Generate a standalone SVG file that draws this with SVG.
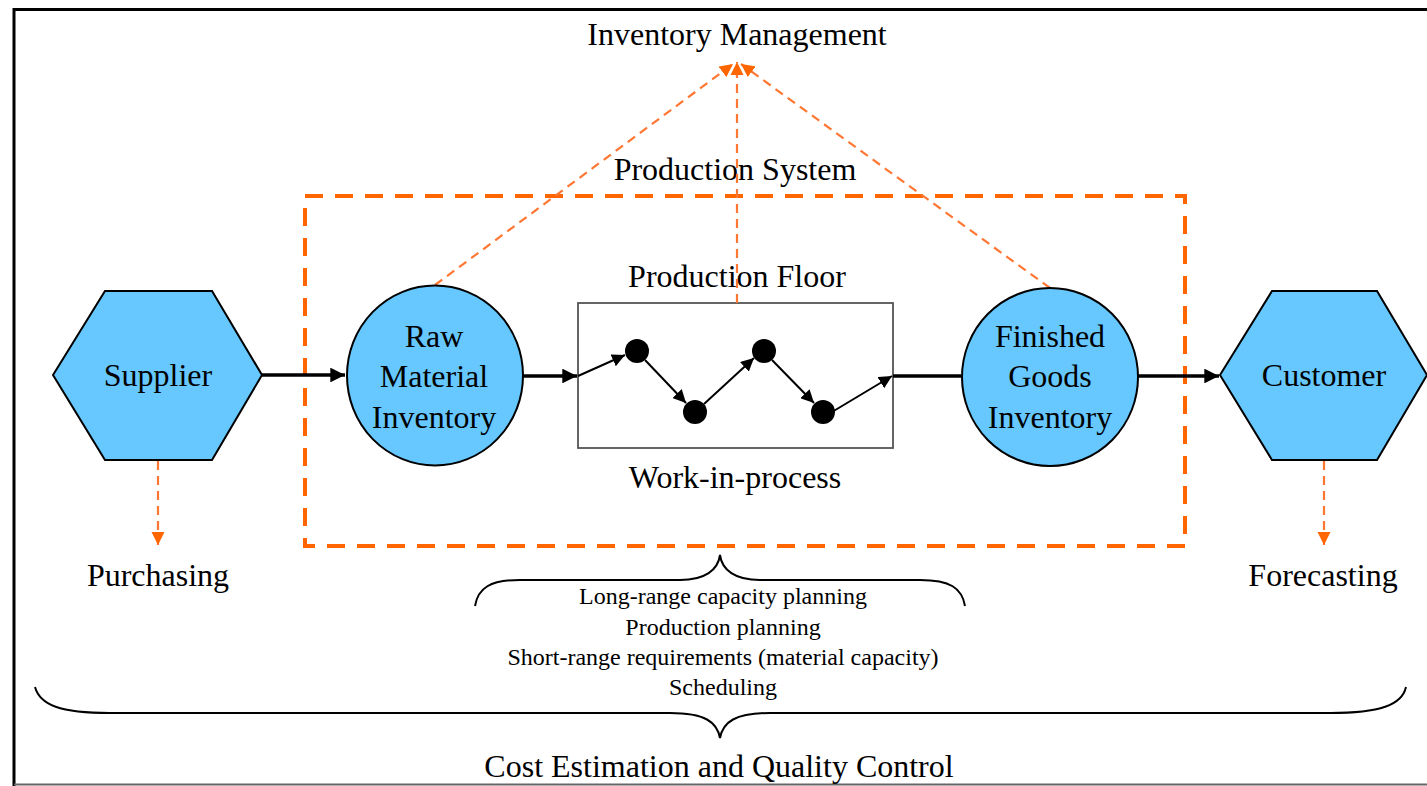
<svg xmlns="http://www.w3.org/2000/svg" width="1427" height="786" viewBox="0 0 1427 786">
<defs>
<style>
.t{font-family:"Liberation Serif","Times New Roman",serif;fill:#000;text-anchor:middle}
.big{font-size:32px}
.small{font-size:24px}
.shape{fill:#66C8FF;stroke:#000;stroke-width:2}
.flow{stroke:#000;stroke-width:3.5;fill:none}
.wip{stroke:#000;stroke-width:2;fill:none}
.dash{stroke:#FF7733;stroke-width:2.2;stroke-dasharray:9 6;fill:none}
.brace{stroke:#000;stroke-width:2;fill:none}
</style>
<marker id="ah" viewBox="0 0 10 10" refX="10" refY="5" markerWidth="4.2" markerHeight="4.2" markerUnits="strokeWidth" orient="auto">
<path d="M0,0 L10,5 L0,10 z" fill="#000"/>
</marker>
<marker id="ah2" viewBox="0 0 10 10" refX="10" refY="5" markerWidth="6.5" markerHeight="6.5" markerUnits="strokeWidth" orient="auto">
<path d="M0,0 L10,5 L0,10 z" fill="#000"/>
</marker>
<marker id="oa" viewBox="0 0 10 10" refX="10" refY="5" markerWidth="6" markerHeight="6" markerUnits="strokeWidth" orient="auto">
<path d="M0,0 L10,5 L0,10 z" fill="#FF6600"/>
</marker>
</defs>
<rect x="0" y="0" width="1427" height="786" fill="#fff"/>
<g id="frame">
<path d="M14,786 L14,9.5 L1427,9.5" fill="none" stroke="#000" stroke-width="3"/>
<line x1="14" y1="784.5" x2="1427" y2="784.5" stroke="#666" stroke-width="2"/>
</g>
<g id="production-system">
<rect x="305" y="196" width="880" height="350" fill="none" stroke="#FF6600" stroke-width="4" stroke-dasharray="18 12"/>
<text class="t big" x="735" y="180">Production System</text>
</g>
<g id="inventory-management">
<text class="t big" x="737" y="45">Inventory Management</text>
</g>
<g id="production-floor">
<rect x="578" y="303" width="315" height="145" fill="none" stroke="#555" stroke-width="1.8"/>
<text class="t big" x="737" y="287">Production Floor</text>
<circle cx="637" cy="351" r="12" fill="#000"/>
<circle cx="695" cy="412" r="12" fill="#000"/>
<circle cx="764" cy="351" r="12" fill="#000"/>
<circle cx="823" cy="412" r="12" fill="#000"/>
<text class="t big" x="735" y="488">Work-in-process</text>
</g>
<g id="connectors">
<line class="flow" x1="262" y1="375" x2="345" y2="375" marker-end="url(#ah)"/>
<line class="flow" x1="522" y1="376" x2="577" y2="376" marker-end="url(#ah)"/>
<line class="flow" x1="893" y1="376" x2="961" y2="376"/>
<line class="flow" x1="1138" y1="376" x2="1219" y2="376" marker-end="url(#ah)"/>
<line class="wip" x1="578" y1="376" x2="625" y2="355" marker-end="url(#ah2)"/>
<line class="wip" x1="645" y1="360" x2="686" y2="403" marker-end="url(#ah2)"/>
<line class="wip" x1="704" y1="404" x2="754" y2="358" marker-end="url(#ah2)"/>
<line class="wip" x1="772" y1="360" x2="814" y2="403" marker-end="url(#ah2)"/>
<line class="wip" x1="832" y1="412" x2="892" y2="376" marker-end="url(#ah2)"/>
<line class="dash" x1="435" y1="285" x2="733" y2="64" marker-end="url(#oa)"/>
<line class="dash" x1="737" y1="303" x2="737" y2="62" marker-end="url(#oa)"/>
<line class="dash" x1="1050" y1="288" x2="741" y2="64" marker-end="url(#oa)"/>
<line class="dash" x1="158" y1="461" x2="158" y2="545" marker-end="url(#oa)"/>
<line class="dash" x1="1324" y1="461" x2="1324" y2="545" marker-end="url(#oa)"/>
</g>
<g id="supplier">
<polygon class="shape" points="53,375 105,291 212,291 262,375 212,460 105,460"/>
<text class="t big" x="158" y="386">Supplier</text>
</g>
<g id="customer">
<polygon class="shape" points="1220,375 1272,291 1377,291 1427,375 1377,460 1272,460"/>
<text class="t big" x="1324" y="386">Customer</text>
</g>
<g id="raw-material-inventory">
<ellipse class="shape" cx="435" cy="375.5" rx="88" ry="90"/>
<text class="t big" x="434" y="347">Raw</text>
<text class="t big" x="434" y="387">Material</text>
<text class="t big" x="434" y="428">Inventory</text>
</g>
<g id="finished-goods-inventory">
<ellipse class="shape" cx="1050" cy="377" rx="88" ry="89"/>
<text class="t big" x="1050" y="347">Finished</text>
<text class="t big" x="1050" y="387">Goods</text>
<text class="t big" x="1050" y="428">Inventory</text>
</g>
<g id="purchasing">
<text class="t big" x="158" y="586">Purchasing</text>
</g>
<g id="forecasting">
<text class="t big" x="1323" y="586">Forecasting</text>
</g>
<g id="planning">
<path class="brace" d="M475,606 C478,588 490,580 520,580 L680,580 C705,580 718,570 720,555 C722,570 735,580 760,580 L920,580 C950,580 962,588 965,606"/>
<text class="t small" x="723" y="604">Long-range capacity planning</text>
<text class="t small" x="723" y="635">Production planning</text>
<text class="t small" x="723" y="665">Short-range requirements (material capacity)</text>
<text class="t small" x="723" y="695">Scheduling</text>
</g>
<g id="cost-quality">
<path class="brace" d="M35,687 C40,705 60,713 110,713 L670,713 C705,713 717,722 720,738 C723,722 735,713 770,713 L1330,713 C1380,713 1402,705 1406,687"/>
<text class="t big" x="719" y="777">Cost Estimation and Quality Control</text>
</g>
</svg>
